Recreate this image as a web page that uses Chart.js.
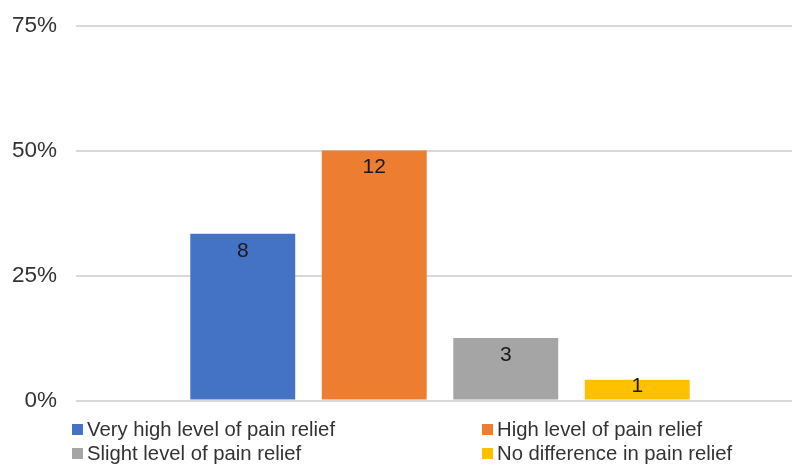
<!DOCTYPE html>
<html>
<head>
<meta charset="utf-8">
<script src="https://cdn.jsdelivr.net/npm/chart.js@4.4.1/dist/chart.umd.min.js"></script>
<style>
  html, body { margin: 0; padding: 0; background: #fff; }
  #wrap { position: relative; width: 792px; height: 468px; overflow: hidden; font-family: "Liberation Sans", Arial, sans-serif; }
  #box { position: absolute; left: 0; top: -7px; width: 804px; height: 440px; }
  .leg { position: absolute; font-size: 20.3px; color: #333; line-height: 24px; white-space: nowrap; }
  .leg i { display: inline-block; width: 11px; height: 11px; margin-right: 4px; vertical-align: 1px; }
</style>
</head>
<body>
<div id="wrap">
  <div id="box"><canvas id="chart"></canvas></div>
  <div id="legend"></div>
</div>
<script>
// responses per answer, out of all respondents
const answers = ['Very high level of pain relief', 'High level of pain relief', 'Slight level of pain relief', 'No difference in pain relief'];
const counts = [8, 12, 3, 1];
const total = 24;
const colors = ['#4472C4', '#ED7D31', '#A5A5A5', '#FFC000'];
const tickPercents = [0, 25, 50, 75];

// count labels inside the top of each bar (kept inside short bars)
const countLabels = {
  id: 'countLabels',
  afterDatasetsDraw(chart) {
    const ctx = chart.ctx;
    ctx.save();
    ctx.font = '21px "Liberation Sans", Arial, sans-serif';
    ctx.fillStyle = '#1a1a1a';
    ctx.textAlign = 'center';
    ctx.textBaseline = 'middle';
    chart.data.datasets.forEach((ds, i) => {
      chart.getDatasetMeta(i).data.forEach((bar, j) => {
        const y = Math.min(bar.y + 17, bar.base - 13);
        ctx.fillText(String(ds.data[j]), bar.x, y);
      });
    });
    ctx.restore();
  }
};

new Chart(document.getElementById('chart'), {
  type: 'bar',
  data: {
    labels: [''],
    datasets: answers.map((a, i) => ({
      label: a,
      data: [counts[i]],
      backgroundColor: colors[i],
      categoryPercentage: 0.7225,
      barPercentage: 0.798
    }))
  },
  options: {
    responsive: true,
    maintainAspectRatio: false,
    animation: false,
    layout: { padding: { top: 18, bottom: 12, left: 0, right: 0 } },
    plugins: { legend: { display: false }, tooltip: { enabled: false } },
    scales: {
      x: { display: false },
      y: {
        min: 0,
        max: total * tickPercents[tickPercents.length - 1] / 100,
        afterBuildTicks(scale) {
          scale.ticks = tickPercents.map(p => ({ value: total * p / 100 }));
        },
        afterFit(scale) { scale.width = 76; },
        border: { display: false },
        grid: { color: '#D9D9D9', lineWidth: 2, drawTicks: false },
        ticks: {
          padding: 19,
          color: '#333',
          font: { family: '"Liberation Sans", Arial, sans-serif', size: 22.5 },
          callback: v => Math.round(v / total * 100) + '%'
        }
      }
    }
  },
  plugins: [countLabels]
});

// two-column legend under the plot
const legendPos = [[72, 417], [482, 417], [72, 441], [482, 441]];
document.getElementById('legend').innerHTML = answers.map((a, n) =>
  `<div class="leg" style="left:${legendPos[n][0]}px;top:${legendPos[n][1]}px"><i style="background:${colors[n]}"></i>${a}</div>`
).join('');
</script>
</body>
</html>
